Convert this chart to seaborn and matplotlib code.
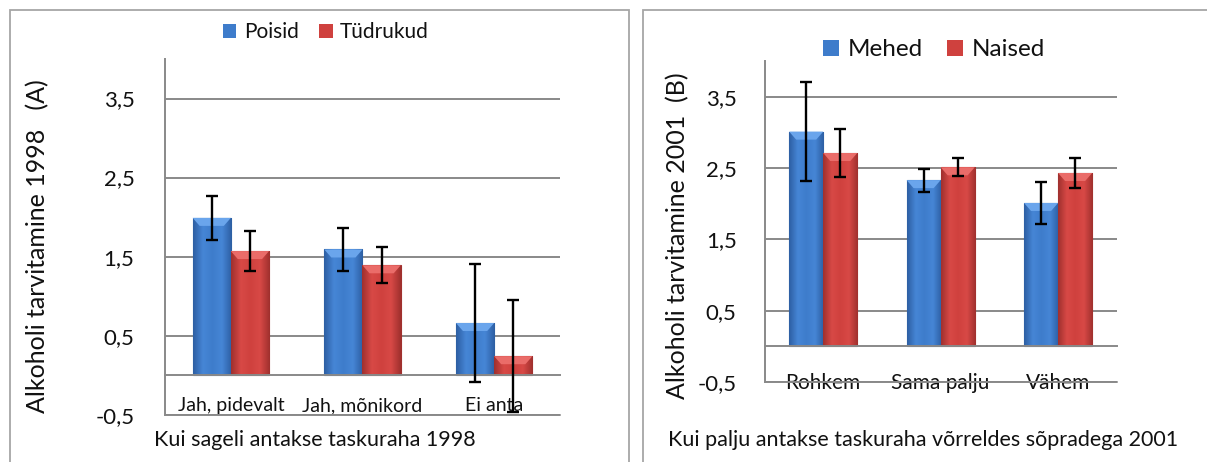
import numpy as np
import pandas as pd
import matplotlib
matplotlib.use("Agg")
import matplotlib.pyplot as plt
import seaborn as sns
from matplotlib.patches import Rectangle, Polygon
from matplotlib.colors import LinearSegmentedColormap

# ---------------- data ----------------
categories_a = ["Jah, pidevalt", "Jah, mõnikord", "Ei anta"]
series_a = ["Poisid", "Tüdrukud"]
poisid = [1.99, 1.59, 0.66]
poisid_err = [0.28, 0.27, 0.75]
tudrukud = [1.57, 1.39, 0.24]
tudrukud_err = [0.25, 0.23, 0.71]

categories_b = ["Rohkem", "Sama palju", "Vähem"]
series_b = ["Mehed", "Naised"]
mehed = [3.01, 2.33, 2.01]
mehed_err = [0.69, 0.16, 0.30]
naised = [2.71, 2.51, 2.43]
naised_err = [0.34, 0.125, 0.21]

ytick_values = [-0.5, 0.5, 1.5, 2.5, 3.5]
ytick_labels = ["-0,5", "0,5", "1,5", "2,5", "3,5"]

xlabel_a = "Kui sageli antakse taskuraha 1998"
ylabel_a = "Alkoholi tarvitamine 1998   (A)"
xlabel_b = "Kui palju antakse taskuraha võrreldes sõpradega 2001"
ylabel_b = "Alkoholi tarvitamine 2001  (B)"

# ---------------- style ----------------
sns.set_style("white")
plt.rcParams["font.family"] = ["Lato", "DejaVu Sans"]

BLUE = "#3E7CCB"
RED = "#CF413E"
SHADES = {
    BLUE: ("#2D5FA3", "#4686D6", "#6AA5EC"),
    RED: ("#A0302E", "#D84946", "#EA6C69"),
}
GRID = "#898989"
TEXT = "#111111"

W, H = 1207, 462
fig = plt.figure(figsize=(W / 100, H / 100), dpi=100)


def fx(px):
    return px / W


def fy(py):
    return 1 - py / H


# panel borders
fig.add_artist(Rectangle((fx(9.5), fy(480)), fx(629.4) - fx(9.5), fy(10) - fy(480),
                         transform=fig.transFigure, fill=False, edgecolor="#A6A6A6", lw=1.3))
fig.add_artist(Rectangle((fx(642.5), fy(480)), fx(1230) - fx(642.5), fy(10) - fy(480),
                         transform=fig.transFigure, fill=False, edgecolor="#A6A6A6", lw=1.3))


def shade_bars(ax, cont, color):
    dark, mid, light = SHADES[color]
    cmap = LinearSegmentedColormap.from_list("c", [dark, mid, color, mid, dark])
    grad = np.linspace(0, 1, 64).reshape(1, -1)
    bbox = ax.get_window_extent()
    x0d, x1d = ax.get_xlim()
    y0d, y1d = ax.get_ylim()
    px_x = (x1d - x0d) / bbox.width
    px_y = (y1d - y0d) / bbox.height
    for b in cont:
        x0, w, h = b.get_x(), b.get_width(), b.get_height()
        im = ax.imshow(grad, extent=[x0, x0 + w, 0, h], aspect="auto", cmap=cmap,
                       interpolation="bicubic", zorder=3.2)
        im.set_clip_path(b)
        t = 8 * px_y
        d = 7 * px_x
        ax.add_patch(Polygon([(x0, h), (x0 + w, h), (x0 + w - d, h - t), (x0 + d, h - t)],
                             closed=True, facecolor=light, edgecolor="none", zorder=3.4))
        b.set_edgecolor(dark)
        b.set_linewidth(0.8)


def panel(rect, cats, series, v0, e0, v1, e1, xlabel, ylabel,
          ylab_xy, xlab_xy, leg_xy, leg_fs, cat_fs, cat_pad, ytick_pad, ylab_fs, xlab_fs):
    ax = fig.add_axes(rect)
    df = pd.DataFrame({
        "cat": cats + cats,
        "grp": [series[0]] * len(cats) + [series[1]] * len(cats),
        "val": v0 + v1,
    })
    sns.barplot(data=df, x="cat", y="val", hue="grp", order=cats, hue_order=series,
                palette=[BLUE, RED], saturation=1, width=0.58, errorbar=None, ax=ax,
                linewidth=0, zorder=3)
    ax.set_xlim(-0.5, len(cats) - 0.5)
    ax.set_ylim(-0.5, 4.0)

    for cont, col in zip(ax.containers, [BLUE, RED]):
        shade_bars(ax, cont, col)

    for cont, v, e in zip(ax.containers, [v0, v1], [e0, e1]):
        xs = [b.get_x() + b.get_width() / 2 for b in cont]
        ax.errorbar(xs, v, yerr=e, fmt="none", ecolor="black", elinewidth=1.7,
                    capsize=4, capthick=1.7, zorder=6)

    ax.set_xlim(-0.5, len(cats) - 0.5)
    ax.set_ylim(-0.5, 4.0)
    ax.set_yticks(ytick_values, ytick_labels)
    ax.yaxis.grid(True, color=GRID, lw=1.4)
    ax.set_axisbelow(True)
    ax.axhline(-0.5, color=GRID, lw=1.4, clip_on=False, zorder=1)
    for s in ["top", "right"]:
        ax.spines[s].set_visible(False)
    ax.spines["left"].set_color(GRID)
    ax.spines["left"].set_linewidth(1.4)
    ax.spines["bottom"].set_position(("data", 0))
    ax.spines["bottom"].set_color(GRID)
    ax.spines["bottom"].set_linewidth(1.4)
    ax.spines["bottom"].set_zorder(4)

    ax.set_xticks(np.arange(len(cats) + 1) - 0.5)
    ax.set_xticklabels([])
    ax.set_xticks(np.arange(len(cats)), minor=True)
    ax.set_xticklabels(cats, minor=True)
    ax.tick_params(axis="x", which="major", length=6, width=1.4, color=GRID, direction="out")
    ax.tick_params(axis="x", which="minor", length=0, pad=cat_pad, labelsize=cat_fs, labelcolor=TEXT)
    ax.tick_params(axis="y", length=6, width=1.4, color=GRID, pad=ytick_pad, labelsize=16, labelcolor=TEXT)

    ax.set_xlabel("")
    ax.set_ylabel("")
    fig.text(fx(ylab_xy[0]), fy(ylab_xy[1]), ylabel, rotation=90, ha="center", va="center",
             fontsize=ylab_fs, color=TEXT)
    fig.text(fx(xlab_xy[0]), fy(xlab_xy[1]), xlabel, ha="center", va="center",
             fontsize=xlab_fs, color=TEXT)

    handles, labels = ax.get_legend_handles_labels()
    if ax.get_legend() is not None:
        ax.get_legend().remove()
    fig.legend(handles, labels, loc="center", bbox_to_anchor=(fx(leg_xy[0]), fy(leg_xy[1])),
               bbox_transform=fig.transFigure, ncol=2, frameon=False, fontsize=leg_fs,
               handlelength=0.65, handleheight=0.65, handletextpad=0.35, columnspacing=1.0,
               labelcolor=TEXT)
    return ax


panel([fx(165), fy(414.7), fx(560) - fx(165), fy(59) - fy(414.7)],
      categories_a, series_a, poisid, poisid_err, tudrukud, tudrukud_err,
      xlabel_a, ylabel_a, ylab_xy=(38, 246), xlab_xy=(315, 440), leg_xy=(326, 32),
      leg_fs=15, cat_fs=14, cat_pad=16, ytick_pad=16, ylab_fs=18, xlab_fs=15.5)

panel([fx(764.5), fy(382), fx(1116.8) - fx(764.5), fy(61) - fy(382)],
      categories_b, series_b, mehed, mehed_err, naised, naised_err,
      xlabel_b, ylabel_b, ylab_xy=(678, 236), xlab_xy=(923, 440), leg_xy=(934, 50),
      leg_fs=17.5, cat_fs=15, cat_pad=19, ytick_pad=14, ylab_fs=18, xlab_fs=15.5)

fig.savefig("out.png", dpi=100)
